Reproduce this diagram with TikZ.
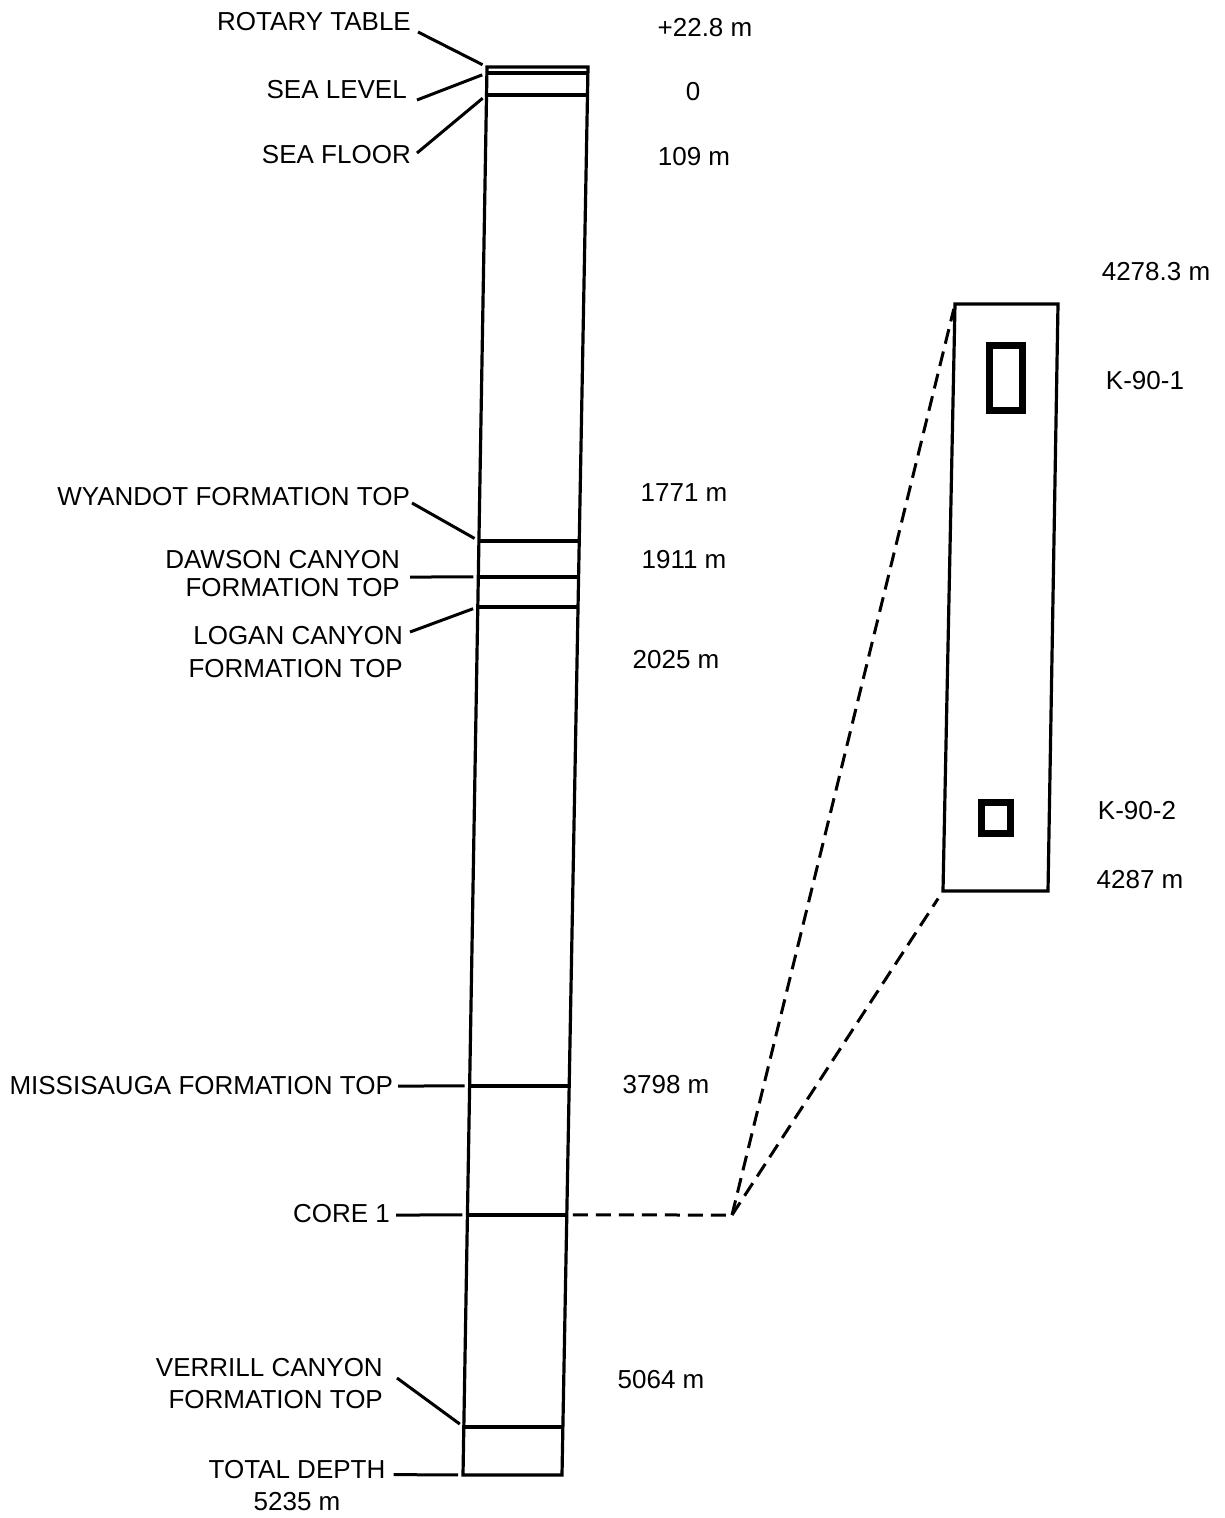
\documentclass[tikz,border=0pt]{standalone}
\usepackage{fontspec}
\setmainfont{Liberation Sans}
\usepackage{tikz}
\usetikzlibrary{calc}
\usetikzlibrary{positioning}
\tikzstyle{lbl} = [inner sep=0pt, font=\fontsize{26}{31}\selectfont]
\tikzstyle{left lbl} = [lbl, anchor=east, align=right]
\tikzstyle{depth} = [lbl, anchor=center]
\tikzstyle{leader} = [line width=3pt, shorten >=5pt]
\tikzstyle{well} = [line width=3.2pt, line join=miter]
\tikzstyle{dashline} = [line width=3pt, dash pattern=on 15pt off 8pt]
\tikzstyle{sample} = [line width=7pt]

\begin{document}
\begin{tikzpicture}[x=1pt, y=-1pt]
\useasboundingbox (0,0) rectangle (1225,1518);

% well column (it leans a little, as in the log)
\coordinate (tl) at (487,67);
\coordinate (tr) at (588,67);
\coordinate (bl) at (463,1475);
\coordinate (br) at (562,1475);
\draw [well] (tl) -- (tr) -- (br) -- (bl) -- cycle;

% formation tops across the column
\coordinate (sl l) at ($(tl)!0.0043!(bl)$);
\coordinate (sl r) at ($(tr)!0.0043!(br)$);
\coordinate (sf l) at ($(tl)!0.0199!(bl)$);
\coordinate (sf r) at ($(tr)!0.0199!(br)$);
\coordinate (wy l) at ($(tl)!0.3366!(bl)$);
\coordinate (wy r) at ($(tr)!0.3366!(br)$);
\coordinate (dc l) at ($(tl)!0.3622!(bl)$);
\coordinate (dc r) at ($(tr)!0.3622!(br)$);
\coordinate (lc l) at ($(tl)!0.3835!(bl)$);
\coordinate (lc r) at ($(tr)!0.3835!(br)$);
\coordinate (ms l) at ($(tl)!0.7237!(bl)$);
\coordinate (ms r) at ($(tr)!0.7237!(br)$);
\coordinate (c1 l) at ($(tl)!0.8153!(bl)$);
\coordinate (c1 r) at ($(tr)!0.8153!(br)$);
\coordinate (vc l) at ($(tl)!0.9659!(bl)$);
\coordinate (vc r) at ($(tr)!0.9659!(br)$);
\draw [well] (sl l) -- (sl r);
\draw [well] (sf l) -- (sf r);
\draw [well] (wy l) -- (wy r);
\draw [well] (dc l) -- (dc r);
\draw [well] (lc l) -- (lc r);
\draw [well] (ms l) -- (ms r);
\draw [well] (c1 l) -- (c1 r);
\draw [well] (vc l) -- (vc r);

% names of the tops
\node [left lbl] (rt) at (411,22) {ROTARY TABLE};
\node [left lbl] (sl) at (407,90) {SEA LEVEL};
\node [left lbl] (sf) at (411,155) {SEA FLOOR};
\node [left lbl] (wy) at (410,497) {WYANDOT FORMATION TOP};
\node [left lbl, font=\fontsize{26}{28}\selectfont] (dc) at (400,574)
    {DAWSON CANYON\\FORMATION TOP};
\node [left lbl, font=\fontsize{26}{33}\selectfont] (lc) at (403,652)
    {LOGAN CANYON\\FORMATION TOP};
\node [left lbl] (ms) at (393,1086) {MISSISAUGA FORMATION TOP};
\node [left lbl] (c1) at (390,1214) {CORE 1};
\node [left lbl, font=\fontsize{26}{32}\selectfont] (vc) at (383,1384)
    {VERRILL CANYON\\FORMATION TOP};
\node [lbl, align=center, font=\fontsize{26}{32}\selectfont] (td) at (297,1486)
    {TOTAL DEPTH\\5235 m};

\draw [leader] ([shift={(7,10)}]rt.east) -- (tl);
\draw [leader] ([shift={(10,10)}]sl.east) -- (sl l);
\draw [leader] ([shift={(6,-2)}]sf.east) -- (sf l);
\draw [leader] ([shift={(2,6)}]wy.east) -- (wy l);
\draw [leader] ([shift={(10,3)}]dc.east) -- (dc l);
\draw [leader] ([shift={(7,-20)}]lc.east) -- (lc l);
\draw [leader] ([shift={(5,0)}]ms.east) -- (ms l);
\draw [leader] ([shift={(6,1)}]c1.east) -- (c1 l);
\draw [leader] ([shift={(14,-6)}]vc.east) -- (vc l);
\draw [leader] ([shift={(8,14)}]td.north east) -- (bl);

% depths
\node [depth] (d rt) at (705,28) {+22.8 m};
\node [depth] (d sl) at (693,92) {0};
\node [depth] (d sf) at (694,157) {109 m};
\node [depth] (d wy) at (684,493) {1771 m};
\node [depth] (d dc) at (684,560) {1911 m};
\node [depth] (d lc) at (676,660) {2025 m};
\node [depth] (d ms) at (666,1085) {3798 m};
\node [depth] (d vc) at (661,1380) {5064 m};

% enlarged core interval
\coordinate (dtl) at (955,304);
\coordinate (dtr) at (1058,304);
\coordinate (dbr) at (1048,891);
\coordinate (dbl) at (943,891);
\draw [well] (dtl) -- (dtr) -- (dbr) -- (dbl) -- cycle;
\draw [sample] (989,345) rectangle (1022,410);
\draw [sample] (981,802) rectangle (1010,833);

\node [depth] (core top) at (1156,272) {4278.3 m};
\node [depth] (k1) at (1145,381) {K-90-1};
\node [depth] (k2) at (1137,811) {K-90-2};
\node [depth] (core bot) at (1140,880) {4287 m};

\coordinate (apex) at (732,1215);
\draw [dashline, shorten <=6pt] (c1 r) -- (apex);
\draw [dashline, shorten >=5pt] (apex) -- (dtl);
\draw [dashline, shorten >=9pt] (apex) -- (dbl);
\end{tikzpicture}
\end{document}
